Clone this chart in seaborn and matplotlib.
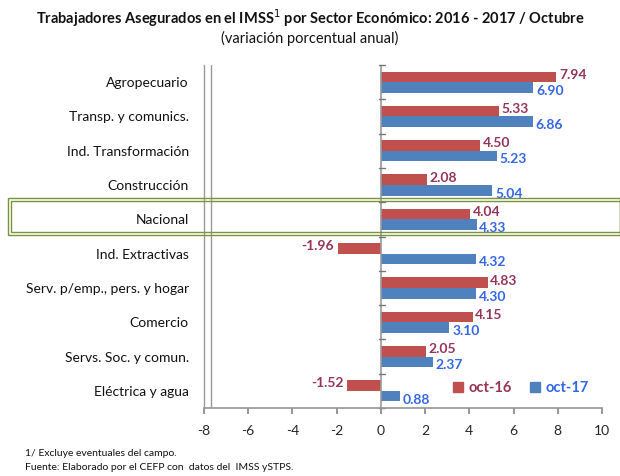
import matplotlib
matplotlib.use("Agg")
import matplotlib.pyplot as plt
import seaborn as sns
import pandas as pd
from matplotlib.patches import Rectangle

categories = ["Agropecuario", "Transp. y comunics.", "Ind. Transformación", "Construcción",
              "Nacional", "Ind. Extractivas", "Serv. p/emp., pers. y hogar", "Comercio",
              "Servs. Soc. y comun.", "Eléctrica y agua"]
oct16 = [7.94, 5.33, 4.50, 2.08, 4.04, -1.96, 4.83, 4.15, 2.05, -1.52]
oct17 = [6.90, 6.86, 5.23, 5.04, 4.33, 4.32, 4.30, 3.10, 2.37, 0.88]
series = ["oct-16", "oct-17"]
xticks = [-8, -6, -4, -2, 0, 2, 4, 6, 8, 10]

df = pd.DataFrame({
    "Sector": categories * 2,
    "Valor": oct16 + oct17,
    "Serie": [series[0]] * len(categories) + [series[1]] * len(categories),
})

sns.set_theme(style="white")
plt.rcParams["font.family"] = ["Lato", "DejaVu Sans"]

RED = "#C0504D"
BLUE = "#4F81BD"
RED_TXT = "#953456"
BLUE_TXT = "#3366E6"

fig = plt.figure(figsize=(6.2, 4.76), dpi=100)
ax = fig.add_axes([204 / 620, 1 - 408 / 476, 398 / 620, 343 / 476])

sns.barplot(data=df, y="Sector", x="Valor", hue="Serie", order=categories,
            hue_order=series, palette=[RED, BLUE], orient="h", width=0.62,
            saturation=1, edgecolor="none", ax=ax, legend=False)

ax.set_xlim(-8, 10)
ax.set_ylim(9.5, -0.5)
ax.set_xticks(xticks)
ax.set_xticklabels([str(t) for t in xticks], fontsize=10)
ax.set_xlabel("")
ax.set_ylabel("")
ax.tick_params(axis="y", length=0, pad=11, labelsize=10)
ax.tick_params(axis="x", length=4, direction="out", color="#888888", pad=8, bottom=True)
for lab in ax.get_yticklabels():
    lab.set_color("#111111")

for s in ["top", "right"]:
    ax.spines[s].set_visible(False)
ax.spines["left"].set_color("#999999")
ax.spines["bottom"].set_color("#999999")
ax.spines["left"].set_linewidth(1.0)

# 3D wall second line
ax.axvline(-7.68, color="#999999", lw=1.0)
# zero axis
ax.axvline(0, color="#999999", lw=1.2)
for b in [i - 0.5 for i in range(len(categories) + 1)]:
    ax.plot([-0.1, 0.18], [b, b], color="#777777", lw=1.0, clip_on=False)

# value labels
for cont, col in zip(ax.containers, [RED_TXT, BLUE_TXT]):
    for rect in cont:
        v = rect.get_width()
        yc = rect.get_y() + rect.get_height() / 2
        dy = -0.06 if col == RED_TXT else 0.1
        if v >= 0:
            ax.text(v + 0.12, yc + dy, f"{v:.2f}", ha="left", va="center",
                    fontsize=10, fontweight="bold", color=col)
        else:
            ax.text(v - 0.15, yc + dy, f"{v:.2f}", ha="right", va="center",
                    fontsize=10, fontweight="bold", color=col)

# legend
handles = [Rectangle((0, 0), 1, 1, color=RED), Rectangle((0, 0), 1, 1, color=BLUE)]
leg = ax.legend(handles, series, loc="lower right", bbox_to_anchor=(1.0, 0.0),
                ncol=2, frameon=False, handlelength=0.7, handleheight=0.7,
                handletextpad=0.4, columnspacing=1.2,
                prop={"size": 10.5, "weight": "bold"})
for t, c in zip(leg.get_texts(), [RED_TXT, BLUE_TXT]):
    t.set_color(c)

# highlight box around Nacional
GREEN = "#77933C"
fig.add_artist(Rectangle((8 / 620, 1 - 235 / 476), 612 / 620, 37 / 476,
                         transform=fig.transFigure, fill=False, ec=GREEN, lw=1.0))
fig.add_artist(Rectangle((11 / 620, 1 - 232 / 476), 609 / 620, 31 / 476,
                         transform=fig.transFigure, fill=False, ec=GREEN, lw=1.0))

# titles
fig.text(0.5, 1 - 18 / 476,
         "Trabajadores Asegurados en el IMSS$^{1}$ por Sector Económico: 2016 - 2017 / Octubre",
         ha="center", va="center", fontsize=10.5, fontweight="bold", color="#111111")
fig.text(0.5, 1 - 38 / 476, "(variación porcentual anual)", ha="center", va="center",
         fontsize=10.5, color="#111111")

# footnotes
fig.text(25 / 620, 1 - 453 / 476, "1/ Excluye eventuales del campo.", ha="left",
         va="center", fontsize=7.5, color="#111111")
fig.text(25 / 620, 1 - 467 / 476, "Fuente: Elaborado por el CEFP con  datos del  IMSS ySTPS.",
         ha="left", va="center", fontsize=7.5, color="#111111")

fig.savefig("out.png", dpi=100)
